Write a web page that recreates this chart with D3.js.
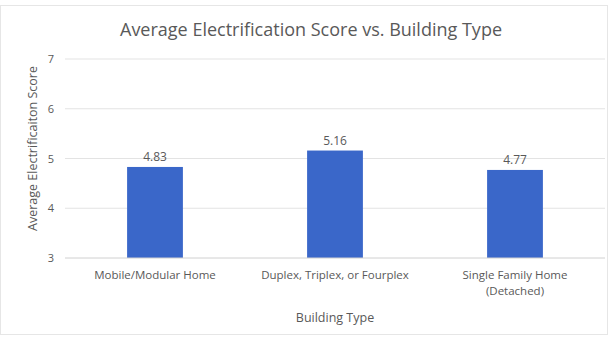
<!DOCTYPE html>
<html>
<head>
<meta charset="utf-8">
<script src="https://cdn.jsdelivr.net/npm/d3@7"></script>
<style>
  html, body { margin: 0; padding: 0; background: #fff; }
  svg { display: block; }
  text { font-family: "Open Sans", "Noto Sans", sans-serif; fill: #595959; }
</style>
</head>
<body>
<svg id="chart" width="613" height="341"></svg>
<script>
// Chart data
const categories = ["Mobile/Modular Home", "Duplex, Triplex, or Fourplex", "Single Family Home (Detached)"];
const categoryLines = [["Mobile/Modular Home"], ["Duplex, Triplex, or Fourplex"], ["Single Family Home", "(Detached)"]];
const scores = [4.83, 5.16, 4.77];
const yTicks = [3, 4, 5, 6, 7];

const svg = d3.select("#chart");
const W = 613, H = 341;
const margin = { top: 59, right: 8, bottom: 83, left: 65 };
const innerW = W - margin.left - margin.right;
const innerH = H - margin.top - margin.bottom;

// Outer frame
svg.append("rect").attr("x", 0.5).attr("y", 5.5).attr("width", W - 6).attr("height", H - 12)
  .attr("fill", "#fff").attr("stroke", "#e6e6e6");

const g = svg.append("g").attr("transform", `translate(${margin.left},${margin.top})`);

const x = d3.scaleBand().domain(categories).range([0, innerW]).paddingInner(0.69).paddingOuter(0.345);
const y = d3.scaleLinear().domain([3, 7]).range([innerH, 0]);

// Gridlines
g.append("g").selectAll("line").data(yTicks.slice(1)).join("line")
  .attr("x1", 0).attr("x2", innerW)
  .attr("y1", d => y(d)).attr("y2", d => y(d))
  .attr("stroke", "#e3e3e3").attr("stroke-width", 1);

// Y axis labels
const yAxis = d3.axisLeft(y).tickValues(yTicks).tickSize(0).tickPadding(11).tickFormat(d3.format("d"));
const yg = g.append("g").call(yAxis);
yg.select(".domain").remove();
yg.selectAll("text").style("font-size", "11px").attr("fill", "#7f7f7f");

// Bars
g.append("g").selectAll("rect").data(scores).join("rect")
  .attr("x", (d, i) => x(categories[i]))
  .attr("width", x.bandwidth())
  .attr("y", d => y(d))
  .attr("height", d => y(3) - y(d))
  .attr("fill", "#3a67c9");

// Value labels
g.append("g").selectAll("text").data(scores).join("text")
  .attr("x", (d, i) => x(categories[i]) + x.bandwidth() / 2)
  .attr("y", d => y(d) - 6)
  .attr("text-anchor", "middle")
  .style("font-size", "12px")
  .attr("fill", "#404040")
  .text(d => d.toFixed(2));

// Baseline
g.append("line").attr("x1", 0).attr("x2", innerW).attr("y1", y(3)).attr("y2", y(3))
  .attr("stroke", "#d0d0d0");

// X axis category labels
const xg = g.append("g").attr("transform", `translate(0,${innerH})`);
categories.forEach((c, i) => {
  const t = xg.append("text")
    .attr("x", x(c) + x.bandwidth() / 2)
    .attr("y", 21)
    .attr("text-anchor", "middle")
    .style("font-size", "11.5px");
  categoryLines[i].forEach((line, j) => {
    t.append("tspan").attr("x", x(c) + x.bandwidth() / 2).attr("dy", j === 0 ? 0 : 16).text(line);
  });
});

// Titles
svg.append("text").attr("x", 311).attr("y", 36).attr("text-anchor", "middle")
  .style("font-size", "18px").attr("fill", "#595959")
  .text("Average Electrification Score vs. Building Type");

svg.append("text").attr("x", 335).attr("y", 322).attr("text-anchor", "middle")
  .style("font-size", "12.5px")
  .text("Building Type");

svg.append("text")
  .attr("transform", `translate(37,${margin.top + innerH / 2 - 10}) rotate(-90)`)
  .attr("text-anchor", "middle")
  .style("font-size", "12.5px")
  .text("Average Electrificaiton Score");
</script>
</body>
</html>
